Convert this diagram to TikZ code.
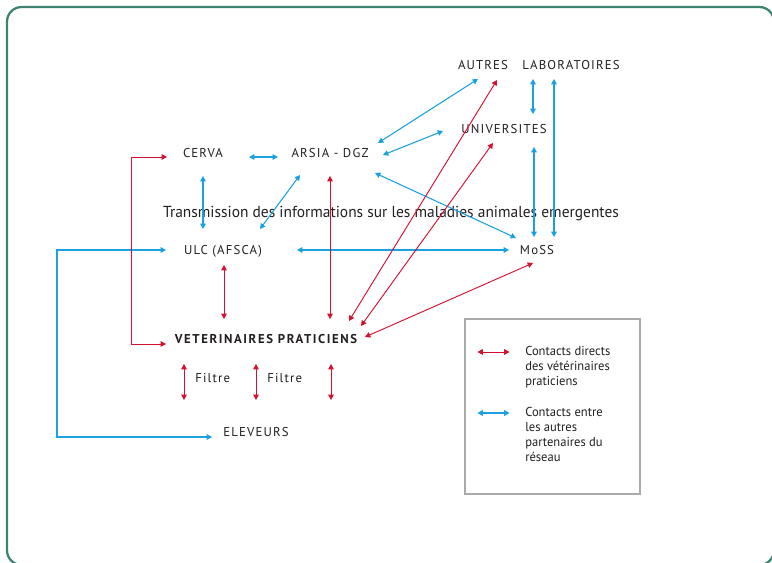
\documentclass[tikz,border=0pt]{standalone}
\usepackage{fontspec}
\setmainfont{PT Sans}
\newfontfamily\capsfont[LetterSpace=9]{PT Sans}
\newfontfamily\condfont[FakeStretch=0.97]{PT Sans}
\usetikzlibrary{arrows.meta}

\definecolor{vetred}{RGB}{213,16,46}
\definecolor{netblue}{RGB}{27,160,224}
\definecolor{framegreen}{RGB}{62,130,112}
\definecolor{boxgray}{RGB}{170,170,170}
\definecolor{textgray}{RGB}{35,31,32}

\tikzset{
  partner/.style={font=\capsfont\fontsize{9.6}{11}\selectfont, text=textgray,
    inner sep=0pt, text height=6.7pt, text depth=0pt},
  keytext/.style={font=\condfont\fontsize{9.7}{11.25}\selectfont, text=textgray,
    inner sep=0pt, anchor=west, align=left},
  redlink/.style={vetred, line width=0.7pt,
    {Triangle[length=4pt,width=4.2pt]}-{Triangle[length=4pt,width=4.2pt]}},
  bluelink/.style={netblue, line width=0.8pt,
    {Triangle[length=4pt,width=4.2pt]}-{Triangle[length=4pt,width=4.2pt]}}
}

\begin{document}
\begin{tikzpicture}[x=0.75pt,y=-0.75pt]
\useasboundingbox (0,0) rectangle (772,563);

% Draw outer frame
\draw[framegreen, line width=1.7pt, rounded corners=11pt] (7,7) rectangle (774,565);

% Draw partner names
\node[partner] (autres) at (483,65) {AUTRES};
\node[partner] (labo) at (571,65) {LABORATOIRES};
\node[partner] (univ) at (504,129) {UNIVERSITES};
\node[partner] (cerva) at (203,153) {CERVA};
\node[partner] (arsia) at (330,153) {ARSIA - DGZ};
\node[partner] (ulc) at (223,250) {ULC (AFSCA)};
\node[partner] (moss) at (537,250) {MoSS};
\node[partner, font=\capsfont\addfontfeature{LetterSpace=12.5}\bfseries\fontsize{9.6}{11}\selectfont] (vet) at (266,339) {VETERINAIRES PRATICIENS};
\node[partner] (eleveurs) at (256,432) {ELEVEURS};
\node[partner, anchor=west] (filtreA) at (195,378) {Filtre};
\node[partner, anchor=west] (filtreB) at (267,378) {Filtre};

% Title across the links
\node[font=\condfont\fontsize{11.95}{14}\selectfont, text=textgray, inner sep=0pt,
  text height=8.3pt, text depth=0pt] (transmission) at (391,212)
  {Transmission des informations sur les maladies animales emergentes};

% Draw contacts between the other partners
\draw[bluelink] ([shift={(46,4)}]cerva.center) -- ([shift={(-52,4)}]arsia.center);
\draw[bluelink] ([shift={(48,-10)}]arsia.center) -- ([shift={(-5,14)}]autres.center);
\draw[bluelink] ([shift={(53,2)}]arsia.center) -- ([shift={(-61,2)}]univ.center);
\draw[bluelink] ([shift={(-38,14)}]labo.center) -- ([shift={(29,-15)}]univ.center);
\draw[bluelink] ([shift={(-17,14)}]labo.center) -- ([shift={(17,-13)}]moss.center);
\draw[bluelink] ([shift={(30,18)}]univ.center) -- ([shift={(-3,-13)}]moss.center);
\draw[bluelink] ([shift={(45,20)}]arsia.center) -- ([shift={(-21,-12)}]moss.center);
\draw[bluelink] ([shift={(0,23)}]cerva.center) -- ([shift={(-20,-21)}]ulc.center);
\draw[bluelink] ([shift={(-30,22)}]arsia.center) -- ([shift={(37,-21)}]ulc.center);
\draw[bluelink] ([shift={(74,0)}]ulc.center) -- ([shift={(-28,0)}]moss.center);
\draw[bluelink] ([shift={(-57,0)}]ulc.center) -- ++(-109,0) |- ([shift={(-44,5)}]eleveurs.center);

% Draw direct contacts of the practitioners
\draw[redlink] ([shift={(-36,4)}]cerva.center) -- ++(-36,0) |- ([shift={(-100,5)}]vet.center);
\draw[redlink] ([shift={(1,15)}]ulc.center) -- ([shift={(-42,-20)}]vet.center);
\draw[redlink] ([shift={(0,23)}]arsia.center) -- ([shift={(64,-20)}]vet.center);
\draw[redlink] ([shift={(14,15)}]autres.center) -- ([shift={(83,-18)}]vet.center);
\draw[redlink] ([shift={(-11,14)}]univ.center) -- ([shift={(95,-13)}]vet.center);
\draw[redlink] ([shift={(-4,13)}]moss.center) -- ([shift={(99,-2)}]vet.center);

% Filter arrows towards the farmers
\draw[redlink] ([shift={(-82,25)}]vet.center) -- ([shift={(-72,-32)}]eleveurs.center);
\draw[redlink] ([shift={(-10,25)}]vet.center) -- ([shift={(0,-32)}]eleveurs.center);
\draw[redlink] ([shift={(65,25)}]vet.center) -- ([shift={(75,-32)}]eleveurs.center);

% Draw legend
\node[draw=boxgray, line width=0.8pt, minimum width=131.25pt, minimum height=131.25pt,
  inner sep=0pt] (legend) at (552.5,406.5) {};
\draw[redlink] ([shift={(13,-54.5)}]legend.west) -- ++(32,0);
\draw[bluelink] ([shift={(13,6.5)}]legend.west) -- ++(32,0);
\node[keytext] (redkey) at (525,367) {Contacts directs\\des vétérinaires\\praticiens};
\node[keytext] (bluekey) at (525,434) {Contacts entre\\les autres\\partenaires du\\réseau};
\end{tikzpicture}
\end{document}
